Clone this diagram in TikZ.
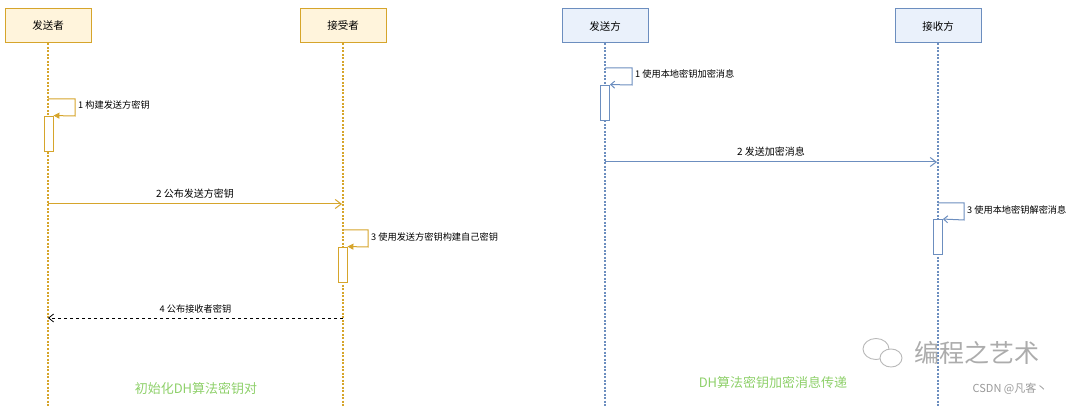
\documentclass[tikz,border=0pt]{standalone}
\usepackage{fontspec}
\setmainfont{Noto Sans CJK SC}
\usetikzlibrary{arrows.meta,patterns}
\definecolor{ob}{HTML}{D6A52B}\definecolor{of}{HTML}{FFF4DC}
\definecolor{bb}{HTML}{6C8EBF}\definecolor{bf}{HTML}{EAF1FB}
\definecolor{gc}{HTML}{8ED06A}
\tikzset{
 actor/.style={draw=#1, line width=1pt, minimum width=86pt, minimum height=34pt, font=\fontsize{10.5}{12}\selectfont, inner sep=0pt},
 life/.style={draw=#1, dash pattern=on 2pt off 1.5pt, line width=1.1pt},
 act/.style={draw=#1, line width=0.9pt, fill=white, minimum width=9pt, minimum height=35pt, inner sep=0pt},
 msg/.style={draw=#1, line width=1pt},
 lbl/.style={font=\fontsize{9.2}{11}\selectfont, inner sep=1pt},
 mlbl/.style={font=\fontsize{10}{12}\selectfont, inner sep=1pt},
 captxt/.style={text=gc, font=\fontsize{13}{15}\selectfont}
}
\begin{document}
\begin{tikzpicture}[x=1pt,y=-1pt]
\useasboundingbox (0,0) rectangle (1080,406);
\node[actor=ob, fill=of] (s1) at (48,26) {发送者};
\node[actor=ob, fill=of] (r1) at (343,26) {接受者};
\node[actor=bb, fill=bf] (s2) at (605,26) {发送方};
\node[actor=bb, fill=bf] (r2) at (938,26) {接收方};
\coordinate (s1e) at (48,406); \coordinate (r1e) at (343,406);
\coordinate (s2e) at (605,406); \coordinate (r2e) at (938,406);
\draw[life=ob] (s1.south) -- (s1e);
\draw[life=ob] (r1.south) -- (r1e);
\draw[life=bb] (s2.south) -- (s2e);
\draw[life=bb] (r2.south) -- (r2e);
\node[act=ob] (a1) at (48.5,133.5) {};
\node[act=ob] (a3) at (342.5,264.5) {};
\coordinate (l1) at (48,99);
\draw[msg=ob, -{Triangle[length=6pt,width=6pt]}] (l1) -| (75,116) -- (a1.north east);
\node[lbl, anchor=west] (t1) at (77,105) {1 构建发送方密钥};
\coordinate (m2a) at (48,204); \coordinate (m2b) at (342,204);
\draw[msg=ob, -{Straight Barb[length=6pt,width=9pt]}] (m2a) -- node[mlbl, above=4pt] {2 公布发送方密钥} (m2b);
\coordinate (l3) at (343,230);
\draw[msg=ob, -{Triangle[length=6pt,width=6pt]}] (l3) -| (368,247) -- (a3.north east);
\node[lbl, anchor=west] (t3) at (370,237) {3 使用发送方密钥构建自己密钥};
\coordinate (m4a) at (343,318); \coordinate (m4b) at (48,318);
\draw[line width=0.8pt, dashed, -{Straight Barb[length=5pt,width=8pt]}] (m4a) -- node[lbl, above=3pt] {4 公布接收者密钥} (m4b);
\node[captxt] (c1) at (196,389) {初始化DH算法密钥对};
\node[act=bb] (b1) at (605,102.5) {};
\node[act=bb] (b3) at (938,237) {};
\coordinate (k1) at (605,68);
\draw[msg=bb, -{Straight Barb[length=4pt,width=7pt]}] (k1) -| (632,85) -- (b1.north east);
\node[lbl, anchor=west] (u1) at (634,74) {1 使用本地密钥加密消息};
\coordinate (n2a) at (605,162); \coordinate (n2b) at (937,162);
\draw[msg=bb, -{Straight Barb[length=6pt,width=9pt]}] (n2a) -- node[mlbl, above=4pt] {2 发送加密消息} (n2b);
\coordinate (k3) at (938,203);
\draw[msg=bb, -{Straight Barb[length=4pt,width=7pt]}] (k3) -| (964,220) -- (b3.north east);
\node[lbl, anchor=west] (u3) at (966,210) {3 使用本地密钥解密消息};
\node[captxt] (c2) at (773,383) {DH算法密钥加密消息传递};
\draw[gray!55, line width=0.9pt] (876,349) ellipse (13pt and 10.5pt);
\draw[gray!55, line width=0.9pt, fill=white] (891,358) ellipse (11pt and 9pt);
\node[text=gray!65, font=\fontsize{25}{28}\selectfont] (w1) at (977,353) {编程之艺术};
\node[text=gray!80, font=\fontsize{11}{13}\selectfont] (w2) at (1010,389) {CSDN @凡客丶};
\end{tikzpicture}
\end{document}
